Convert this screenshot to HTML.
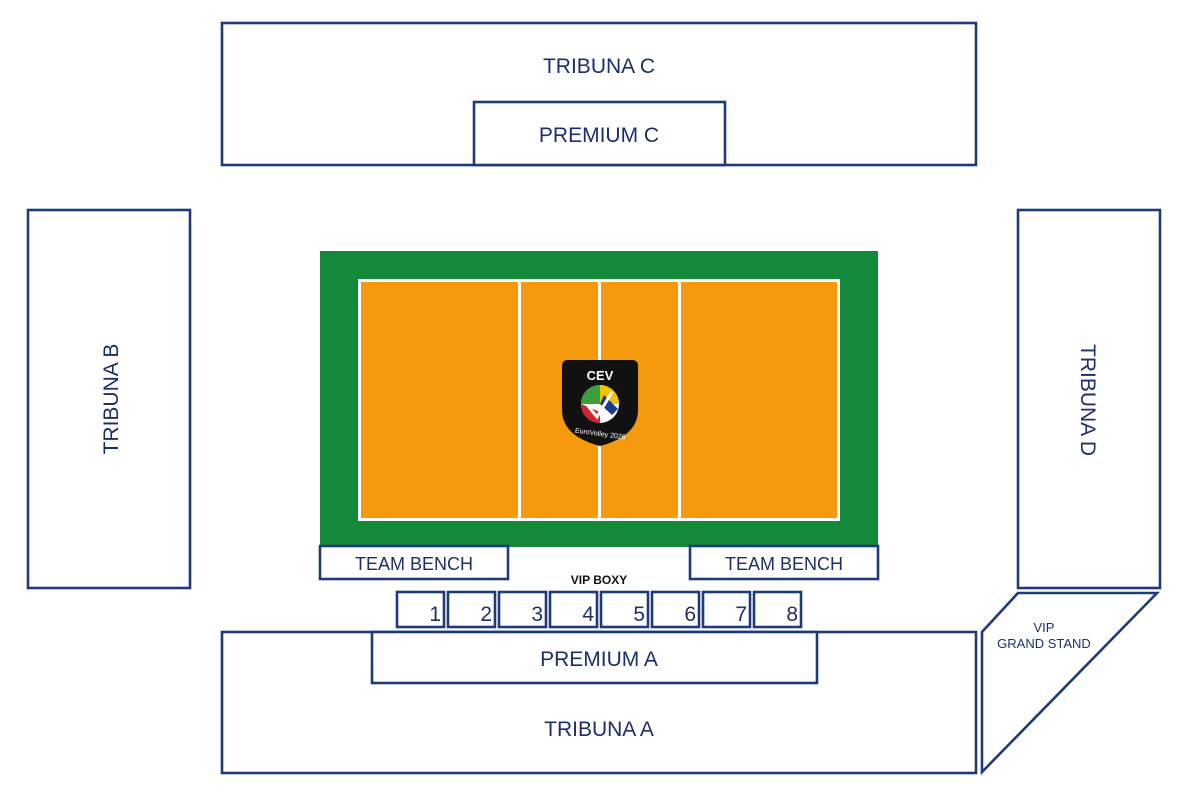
<!DOCTYPE html>
<html><head><meta charset="utf-8"><style>
html,body{margin:0;padding:0;background:#fff;}
svg{display:block;}
text{font-family:"Liberation Sans",Arial,sans-serif;fill:#1d2f6b;}
</style></head><body>
<svg width="1200" height="800" viewBox="0 0 1200 800" xmlns="http://www.w3.org/2000/svg">
<rect width="1200" height="800" fill="#fff"/>
<g fill="#fff" stroke="#1e3a78" stroke-width="2.6">
<rect x="222" y="23" width="754" height="142"/>
<rect x="474" y="102" width="251" height="63"/>
<rect x="28" y="210" width="162" height="378"/>
<rect x="1018" y="210" width="142" height="378"/>
<rect x="222" y="632" width="754" height="141"/>
<rect x="372" y="632" width="445" height="51"/>
<polygon points="982,632 1018,593 1157,593 982,772"/>
</g>
<rect x="320" y="251" width="558" height="296" fill="#138a3a"/>
<rect x="358" y="279" width="482" height="242" fill="#fff"/>
<rect x="361" y="282" width="157" height="236" fill="#f59a0c"/>
<rect x="521" y="282" width="77" height="236" fill="#f59a0c"/>
<rect x="601" y="282" width="77" height="236" fill="#f59a0c"/>
<rect x="681" y="282" width="156" height="236" fill="#f59a0c"/>
<g fill="#fff" stroke="#1e3a78" stroke-width="2.6">
<rect x="320" y="546" width="188" height="33"/>
<rect x="690" y="546" width="188" height="33"/>
<rect x="397" y="592" width="47" height="35"/>
<rect x="448" y="592" width="47" height="35"/>
<rect x="499" y="592" width="47" height="35"/>
<rect x="550" y="592" width="47" height="35"/>
<rect x="601" y="592" width="47" height="35"/>
<rect x="652" y="592" width="47" height="35"/>
<rect x="703" y="592" width="47" height="35"/>
<rect x="754" y="592" width="47" height="35"/>
</g>
<!-- logo -->
<path d="M568,360 H632 Q638,360 638,366 V410 Q638,436 600,446 Q562,436 562,410 V366 Q562,360 568,360 Z" fill="#111"/>
<text x="600" y="380" text-anchor="middle" font-size="13" font-weight="bold" style="fill:#fff">CEV</text>
<circle cx="600" cy="404" r="19" fill="#fff"/>
<path d="M581,404 A19,19 0 0 1 600,385 L600,404 Z" fill="#3aa13a"/>
<path d="M600,385 A19,19 0 0 1 619,404 L600,404 Z" fill="#f2c200"/>
<path d="M604,395 L618,409 L612,415 L600,404 Z" fill="#1d3a8a"/>
<path d="M581,404 A19,19 0 0 0 600,423 L600,412 Z" fill="#d42030"/>
<path d="M588,406 L597,417 L612,392" fill="none" stroke="#fff" stroke-width="3"/>
<text x="600" y="436" text-anchor="middle" font-size="7" style="fill:#fff" transform="rotate(8 600 436)">EuroVolley 2026</text>
<text x="599" y="73" text-anchor="middle" font-size="21">TRIBUNA C</text>
<text x="599" y="142" text-anchor="middle" font-size="21">PREMIUM C</text>
<text x="599" y="666" text-anchor="middle" font-size="21">PREMIUM A</text>
<text x="599" y="736" text-anchor="middle" font-size="21">TRIBUNA A</text>
<text transform="translate(118,399) rotate(-90)" text-anchor="middle" font-size="21">TRIBUNA B</text>
<text transform="translate(1081,400) rotate(90)" text-anchor="middle" font-size="21">TRIBUNA D</text>
<text x="414" y="570" text-anchor="middle" font-size="18">TEAM BENCH</text>
<text x="784" y="570" text-anchor="middle" font-size="18">TEAM BENCH</text>
<text x="599" y="584" text-anchor="middle" font-size="12" font-weight="bold" style="fill:#111">VIP BOXY</text>
<g font-size="21" text-anchor="end">
<text x="441" y="621">1</text><text x="492" y="621">2</text><text x="543" y="621">3</text><text x="594" y="621">4</text>
<text x="645" y="621">5</text><text x="696" y="621">6</text><text x="747" y="621">7</text><text x="798" y="621">8</text>
</g>
<text x="1044" y="632" text-anchor="middle" font-size="13">VIP</text>
<text x="1044" y="648" text-anchor="middle" font-size="13">GRAND STAND</text>
</svg>
</body></html>
